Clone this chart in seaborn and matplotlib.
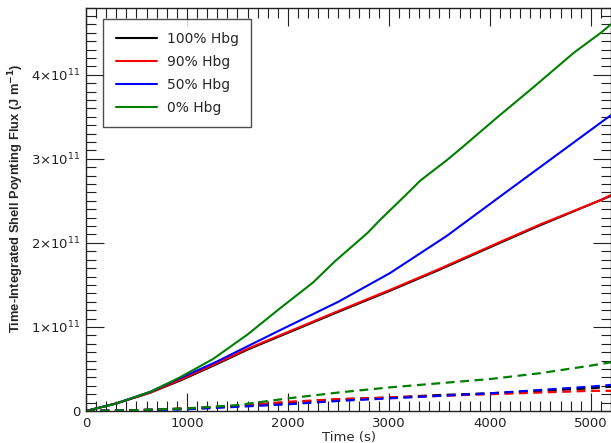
import numpy as np
import pandas as pd
import matplotlib
matplotlib.use("Agg")
import matplotlib.pyplot as plt
from matplotlib.ticker import MultipleLocator, FuncFormatter
import seaborn as sns

# ---- data (values in units of 1e11 J/m) ----
t_100 = [0, 300, 640, 930, 1300, 1600, 1920, 2500, 3010, 3500, 4100, 4500, 5100, 5200]
solid_100 = [0, 0.09, 0.22, 0.36, 0.56, 0.73, 0.89, 1.18, 1.43, 1.68, 2.00, 2.21, 2.51, 2.56]
t_90 = [0, 300, 640, 930, 1300, 1600, 1920, 2500, 3010, 3500, 4100, 4500, 5100, 5200]
solid_90 = [0, 0.09, 0.22, 0.37, 0.57, 0.74, 0.90, 1.19, 1.44, 1.69, 2.01, 2.22, 2.51, 2.57]
t_50 = [0, 300, 640, 930, 1300, 1600, 1920, 2500, 3010, 3570, 4100, 4440, 5200]
solid_50 = [0, 0.09, 0.23, 0.39, 0.59, 0.77, 0.96, 1.30, 1.64, 2.08, 2.55, 2.85, 3.52]
t_0 = [0, 300, 640, 930, 1260, 1600, 1920, 2250, 2465, 2790, 2910, 3210, 3310, 3570,
       3710, 4080, 4440, 4830, 5100, 5200]
solid_0 = [0, 0.09, 0.23, 0.40, 0.62, 0.91, 1.22, 1.53, 1.78, 2.12, 2.27, 2.62, 2.74, 2.98,
           3.12, 3.50, 3.86, 4.26, 4.50, 4.60]

t_dash = [0, 500, 1000, 1500, 2000, 2500, 3000, 3500, 4000, 4500, 5000, 5200]
dash_100 = [0, 0.01, 0.03, 0.06, 0.10, 0.14, 0.16, 0.19, 0.21, 0.24, 0.27, 0.29]
dash_90 = [0, 0.01, 0.03, 0.06, 0.11, 0.14, 0.16, 0.18, 0.20, 0.22, 0.24, 0.24]
dash_50 = [0, 0.01, 0.02, 0.05, 0.08, 0.12, 0.15, 0.18, 0.21, 0.25, 0.29, 0.31]
dash_0 = [0, 0.01, 0.03, 0.07, 0.15, 0.22, 0.28, 0.33, 0.38, 0.45, 0.54, 0.58]

labels = ["100% Hbg", "90% Hbg", "50% Hbg", "0% Hbg"]
colors = ["#000000", "#ff0000", "#0000ff", "#008000"]
SCALE = 1e11

sns.set_style("ticks")
plt.rcParams["font.family"] = ["DejaVu Sans"]
plt.rcParams["mathtext.fontset"] = "dejavusans"

fig = plt.figure(figsize=(6.11, 4.43), dpi=100)
ax = fig.add_axes([86 / 611, 32 / 443, 525 / 611, 403.5 / 443])

solid_sets = [(t_100, solid_100), (t_90, solid_90), (t_50, solid_50), (t_0, solid_0)]
dash_sets = [dash_100, dash_90, dash_50, dash_0]

for lab, col, (ts, ys) in zip(labels, colors, solid_sets):
    sns.lineplot(x=ts, y=np.array(ys) * SCALE, ax=ax, color=col,
                 linewidth=1.5, label=lab, estimator=None, sort=False)
for col, ys in zip(colors, dash_sets):
    sns.lineplot(x=t_dash, y=np.array(ys) * SCALE, ax=ax, color=col,
                 linewidth=1.6, estimator=None, sort=False, legend=False)
for ln in ax.get_lines()[4:]:
    ln.set_dashes((4, 2.5))

ax.set_xlim(0, 5200)
ax.set_ylim(0, 4.8e11)

ax.xaxis.set_major_locator(MultipleLocator(1000))
ax.xaxis.set_minor_locator(MultipleLocator(100))
ax.yaxis.set_major_locator(MultipleLocator(1e11))
ax.yaxis.set_minor_locator(MultipleLocator(1e10))


def yfmt(v, pos):
    n = int(round(v / 1e11))
    if n == 0:
        return "0"
    return r"$%d{\times}10^{11}$" % n


ax.yaxis.set_major_formatter(FuncFormatter(yfmt))

ax.tick_params(which="both", direction="in", top=True, right=True,
               colors="#222222", labelcolor="#222222")
ax.tick_params(which="major", length=13, width=0.8, labelsize=9.5, pad=4)
ax.tick_params(which="minor", length=7, width=0.8)
for s in ax.spines.values():
    s.set_linewidth(1.0)
    s.set_color("#222222")

ax.set_xlabel("Time (s)", fontsize=9.5, labelpad=1)
ax.set_ylabel(r"Time-Integrated Shell Poynting Flux (J m$^{\mathbf{-1}}$)",
              fontsize=9.3, fontweight="bold", family=["Liberation Sans", "DejaVu Sans"],
              va="center")
ax.yaxis.set_label_coords(-0.133, 0.528)

leg = ax.legend(loc="upper left", bbox_to_anchor=(17 / 525, (411 - 19) / 403.5),
                borderaxespad=0, frameon=True, fancybox=False, fontsize=10,
                handlelength=3.0, handletextpad=0.7, labelspacing=0.65,
                borderpad=0.9)
leg.get_frame().set_edgecolor("#222222")
leg.get_frame().set_linewidth(1.0)

fig.savefig("out.png", dpi=100)
